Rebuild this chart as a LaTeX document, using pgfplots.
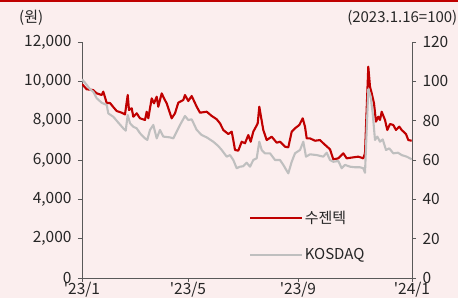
\documentclass[border=0pt]{standalone}
\usepackage{fontspec}
\setmainfont{Noto Sans CJK KR}
\usepackage{pgfplots}
\pgfplotsset{compat=1.18}
\definecolor{bgpink}{RGB}{251,238,238}
\definecolor{sred}{RGB}{192,0,0}
\definecolor{kgray}{RGB}{191,191,191}
\definecolor{axgray}{RGB}{89,89,89}
\definecolor{txt}{RGB}{38,38,38}
\begin{document}
\begin{tikzpicture}
\path[use as bounding box] (0,0) rectangle (458bp,298bp);
\fill[bgpink] (0,0) rectangle (458bp,298bp);
\fill[sred] (0,296bp) rectangle (458bp,298bp);
\node[anchor=west, text=txt, font=\fontsize{15bp}{17bp}\selectfont, inner sep=0] at (19bp,280bp) {(원)};
\node[anchor=east, text=txt, font=\fontsize{15bp}{17bp}\selectfont, inner sep=0] at (457.5bp,280bp) {(2023.1.16=100)};
\pgfplotsset{
  myax/.style={
    scale only axis, width=330bp, height=236bp,
    at={(82bp,20bp)}, anchor=south west,
    xmin=0, xmax=330,
    tick align=outside, major tick length=4bp,
    every tick/.style={axgray, line width=0.8pt},
    axis line style={axgray, line width=0.8pt},
    tick label style={text=txt, font=\fontsize{15.5bp}{17bp}\selectfont},
    /pgf/number format/assume math mode=true,
    /pgf/number format/1000 sep={,},
  }
}
\begin{axis}[myax,
  axis x line*=bottom, axis y line*=left,
  ymin=0, ymax=12000, ytick={0,2000,...,12000},
  scaled y ticks=false,
  yticklabel style={xshift=-3bp},
  xtick={0,106,216,330},
  xticklabels={\textquotesingle23/1,\textquotesingle23/5,\textquotesingle23/9,\textquotesingle24/1},
  xticklabel style={yshift=3bp},
]
\addplot[sred, line width=2.1bp, line join=round] coordinates {
(0,9865)(4.7,9595)(11,9560)(14.7,9390)(19.7,9305)(21.3,9475)(24.7,8900)(28,8900)
(31,8710)(34.7,8490)(39.7,8405)(43,8320)(45.7,9305)(47,8540)(49.7,8630)(51.3,8200)
(54.7,8375)(58,8120)(63,8035)(64.7,8455)(66.3,8120)(69.7,9135)(72,8880)(74.7,9220)
(76.3,8710)(79.7,9390)(82,9135)(84.7,8880)(89.7,8120)(93,8375)(96.3,8915)(101.3,9050)
(103,9305)(106.3,9000)(109.7,9255)(114.7,8710)(118,8405)(124.7,8455)(129.7,8240)
(134.7,8070)(138,7865)(141.3,7525)(146.3,7320)(149.7,7440)(151.3,7015)(153,6510)
(156.3,6475)(159.7,6930)(163,6850)(166.3,7270)(168.7,6930)(171.3,7440)(174,7695)
(175.7,7865)(177.3,8710)(179,8200)(181.3,7525)(184.7,7015)(189.7,7185)(194.7,6880)
(198,6930)(203,6675)(206.3,6645)(209.7,7440)(213,7610)(217.3,7780)(220.7,8120)
(223,7695)(224.7,7100)(228,7100)(233,6980)(238,7015)(241.3,6850)(248,6545)
(251.3,6035)(256.3,6085)(261.3,6340)(264.7,6085)(271.3,6135)(276.3,6170)(281.3,6085)
(283,6340)(286.3,10745)(288,9730)(289.7,9390)(292,8880)(294,7950)(296.3,8200)
(298,8035)(299.7,8455)(303,8035)(305.3,7525)(308,7830)(311.3,7780)(314,7525)
(317.3,7695)(319.7,7525)(324,7320)(326.3,7015)(329.7,6980)
};
\end{axis}
\begin{axis}[myax,
  axis x line=none, axis y line*=right,
  ymin=0, ymax=120, ytick={0,20,...,120},
  yticklabel style={xshift=3bp},
  legend style={draw=none, fill=none, at={(0.506,0.292)}, anchor=north west,
    inner sep=0pt, row sep=21bp,
    font=\fontsize{15bp}{17bp}\selectfont, text=txt,
    nodes={inner sep=1.5bp}},
  legend cell align=left,
  legend image code/.code={\draw[#1] (0bp,0bp) -- (52bp,0bp);},
]
\addlegendimage{sred, line width=2.1bp}
\addlegendentry{수젠텍}
\addplot[kgray, line width=2.1bp, line join=round] coordinates {
(0,101.0)(3,99.3)(8,96.0)(11.3,94.7)(14.7,91.4)(19.7,89.1)(24.7,88.0)(26.3,83.7)
(31.3,82.0)(36.3,79.0)(41.3,76.1)(43.7,74.9)(45.7,82.9)(48,78.7)(51.3,76.9)(54.7,76.1)
(58,73.6)(63,71.0)(65.3,70.2)(68,75.3)(71.3,77.8)(74.7,71.0)(78,75.3)(81.3,71.9)
(88,71.5)(91.3,71.0)(94.7,74.4)(98,77.8)(103,82.4)(106.3,80.3)(109.7,80.7)(114.7,75.3)
(119.7,72.7)(124.7,71.5)(131.3,69.3)(136.3,67.1)(139.7,65.1)(144.7,61.7)(148,62.5)
(151.3,60.0)(154.7,55.8)(158,56.6)(161,56.8)(164.7,58.6)(168,56.6)(171.3,60.0)
(174.7,60.9)(177.3,69.3)(179.7,65.1)(183,63.4)(188,63.4)(193,60.0)(198,60.0)
(201.3,57.5)(206.3,53.2)(209.7,59.1)(213,63.4)(218,65.1)(221.3,69.3)(224,61.7)
(228,62.9)(234.7,62.5)(241.3,61.7)(244.7,63.7)(248,60.0)(251.3,59.1)(256.3,59.5)
(259.7,55.8)(263,57.5)(268,56.6)(273,56.3)(278,56.3)(281.3,55.8)(283,53.5)
(286.3,96.0)(288.7,92.2)(290.7,83.7)(293,70.2)(295.3,71.9)(298,69.3)(300.7,70.5)
(304,65.1)(307.3,65.9)(311.3,63.4)(316,63.7)(319.7,62.5)(324.7,61.7)(329.7,60.4)
};
\addlegendentry{KOSDAQ}
\end{axis}
\end{tikzpicture}
\end{document}
